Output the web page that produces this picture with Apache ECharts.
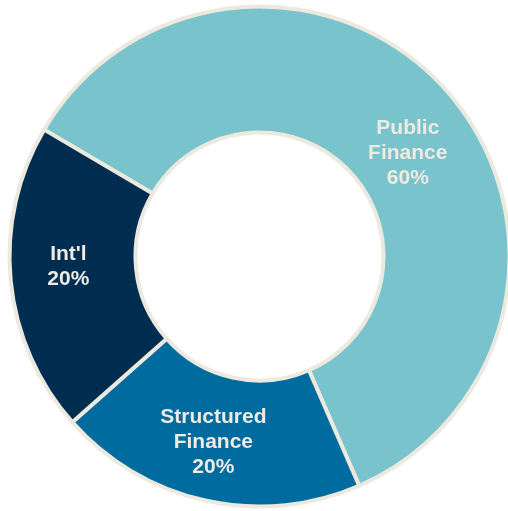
<!DOCTYPE html>
<html>
<head>
<meta charset="utf-8">
<script src="https://cdn.jsdelivr.net/npm/echarts@6/dist/echarts.min.js"></script>
<style>
  html, body { margin: 0; padding: 0; background: #fff; }
  #chart { width: 508px; height: 511px; }
</style>
</head>
<body>
<div id="chart"></div>
<script>
// segment data
var segmentNames = ["Public\nFinance", "Structured\nFinance", "Int'l"];
var segmentValues = [60, 20, 20];
var segmentColors = ["#78c3cc", "#006b9f", "#002d50"];
// small nudges so labels sit where the original has them
var labelOffsets = [[6, 23], [-5, 0], [-2, -8]];

var chart = echarts.init(document.getElementById("chart"));

var pieData = segmentNames.map(function (name, i) {
  return {
    name: name,
    value: segmentValues[i],
    itemStyle: { color: segmentColors[i] },
    label: { offset: labelOffsets[i] },
  };
});

chart.setOption({
  animation: false,
  series: [
    {
      type: "pie",
      center: [259.5, 256.5],
      radius: [124, 250],
      startAngle: 149.5,
      clockwise: true,
      itemStyle: {
        borderColor: "#ece9df",
        borderWidth: 4,
      },
      label: {
        show: true,
        position: "inside",
        formatter: "{b}\n{c}%",
        color: "#eeebe3",
        fontFamily: "'Liberation Sans', Arial, sans-serif",
        fontWeight: "bold",
        fontSize: 21,
        lineHeight: 25,
      },
      labelLine: { show: false },
      emphasis: { disabled: true },
      data: pieData,
    },
  ],
});
</script>
</body>
</html>
